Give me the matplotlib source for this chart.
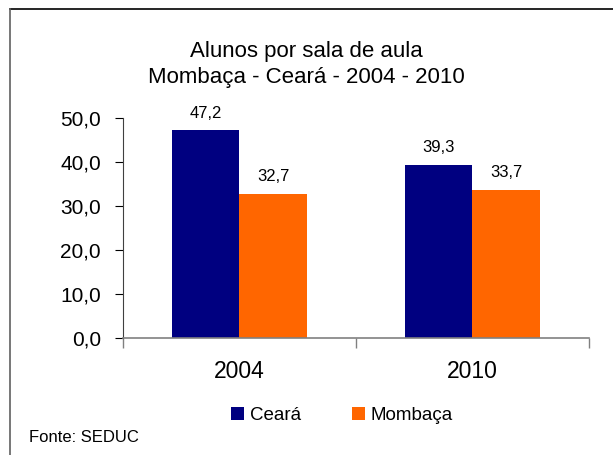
import matplotlib.pyplot as plt
import numpy as np
from matplotlib.lines import Line2D

plt.rcParams['font.family'] = ['Liberation Sans', 'DejaVu Sans']

years = ['2004', '2010']
ceara = [47.2, 39.3]
mombaca = [32.7, 33.7]
series_names = ['Ceará', 'Mombaça']
colors = ['#000080', '#FF6600']
yticks = [0, 10, 20, 30, 40, 50]

fig = plt.figure(figsize=(6.13, 4.55), dpi=100)
ax = fig.add_axes([0.2007, 0.257, 0.760, 0.4835])

x = np.arange(len(years))
w = 0.29
b1 = ax.bar(x - w / 2, ceara, w, color=colors[0], label=series_names[0])
b2 = ax.bar(x + w / 2, mombaca, w, color=colors[1], label=series_names[1])

for bars in (b1, b2):
    for rect in bars:
        h = rect.get_height()
        ax.annotate(f'{h:.1f}'.replace('.', ','),
                    (rect.get_x() + rect.get_width() / 2, h),
                    xytext=(0, 7), textcoords='offset points',
                    ha='center', va='bottom', fontsize=12)

ax.set_xlim(-0.5, len(years) - 0.5)
ax.set_ylim(0, 50)
ax.set_yticks(yticks)
ax.set_yticklabels([f'{v:.1f}'.replace('.', ',') for v in yticks], fontsize=15)
ax.tick_params(axis='y', length=6, width=0.8, pad=10, direction='out')

ax.set_xticks(x)
ax.set_xticklabels(years, fontsize=16.5)
ax.set_xticks(np.arange(-0.5, len(years)), minor=True)
ax.tick_params(axis='x', which='major', length=0, pad=16)
ax.tick_params(axis='x', which='minor', length=7, color='#808080', width=1)

for s in ('top', 'right'):
    ax.spines[s].set_visible(False)
ax.spines['left'].set_color('#404040')
ax.spines['bottom'].set_color('#808080')
ax.spines['bottom'].set_linewidth(1.2)

fig.text(0.5, 0.887, 'Alunos por sala de aula', ha='center', va='center', fontsize=16)
fig.text(0.5, 0.829, 'Mombaça - Ceará - 2004 - 2010', ha='center', va='center', fontsize=16)

fig.legend(loc='center', bbox_to_anchor=(0.558, 0.086), ncol=2, frameon=False,
           fontsize=13.5, handlelength=0.7, handleheight=0.7, handletextpad=0.3,
           columnspacing=2.7)

fig.text(0.048, 0.039, 'Fonte: SEDUC', ha='left', va='center', fontsize=12)

# moldura (apenas topo e esquerda aparecem no recorte)
fig.add_artist(Line2D([0.0163, 1.0], [0.98, 0.98], transform=fig.transFigure, color='black', lw=1.2))
fig.add_artist(Line2D([0.0163, 0.0163], [0.98, 0.0], transform=fig.transFigure, color='#606060', lw=1.2))

fig.savefig('out.png', dpi=100)
